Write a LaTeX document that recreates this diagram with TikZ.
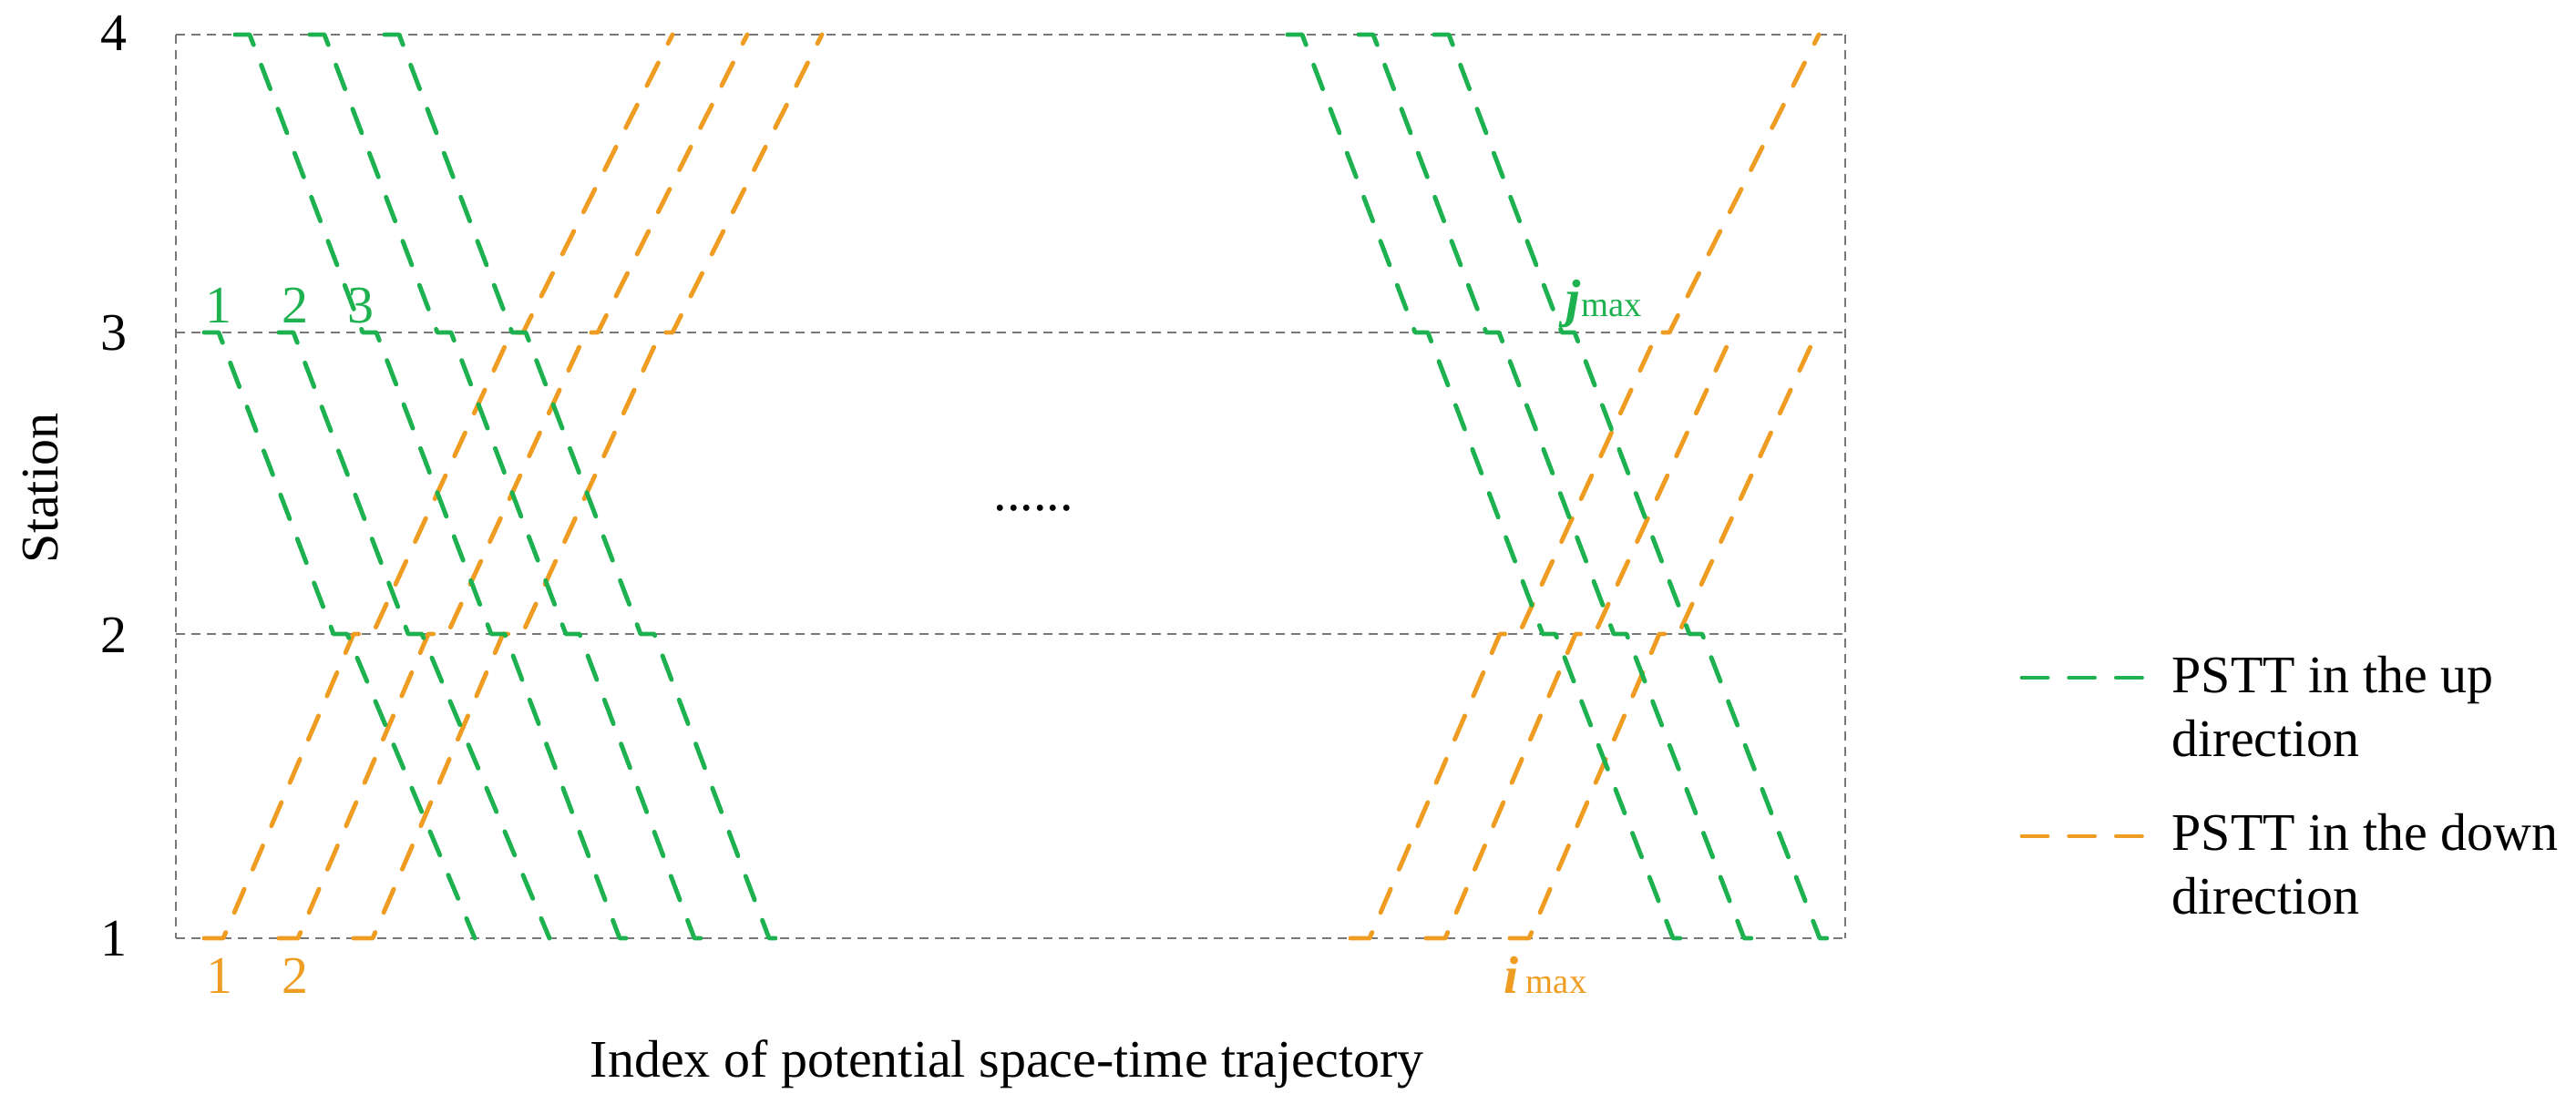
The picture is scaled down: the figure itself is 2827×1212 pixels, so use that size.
\documentclass[tikz,border=0pt]{standalone}
\usepackage{fontspec}
\setmainfont{Liberation Serif}
\definecolor{upg}{RGB}{30,177,80}
\definecolor{downo}{RGB}{239,156,34}
\definecolor{gridc}{RGB}{120,120,120}
\newcommand{\mysubfont}{\fontsize{11pt}{13pt}\selectfont}
\tikzset{
  traj/.style={line width=1.4pt, line cap=round, line join=round, dash pattern=on 2.8mm off 2.37mm},
  uptraj/.style={traj, draw=upg},
  downtraj/.style={traj, draw=downo},
  gridln/.style={draw=gridc, line width=0.4pt, dash pattern=on 1mm off 0.7mm},
  lbl/.style={inner sep=0pt, font=\fontsize{16.5pt}{19.8pt}\selectfont},
}
\begin{document}
\begin{tikzpicture}[x=0.1mm,y=-0.1mm]
\useasboundingbox (0,0) rectangle (2827,1212);
% grid / frame
\foreach \yy in {38,365,696,1030} \draw[gridln] (193,\yy) -- (2025,\yy);
\draw[gridln] (193,38) -- (193,1030);
\draw[gridln] (2025,38) -- (2025,1030);
% orange (down direction) trajectories, left group
\foreach \s in {224,306,388}
  \draw[downtraj] (\s,1030) -- ++(21,0) -- ++(143,-334) -- ++(21,0) -- ++(152,-331) -- ++(13,0) -- ++(164,-327);
% orange, right group
\draw[downtraj] (1482,1030) -- ++(21,0) -- ++(143,-334) -- ++(21,0) -- ++(152,-331) -- ++(13,0) -- ++(164,-327);
\foreach \s in {1565,1657}
  \draw[downtraj] (\s,1030) -- ++(21,0) -- ++(143,-334) -- ++(21,0) -- ++(152,-331);
% green (up direction) trajectories, left group
\foreach \s in {258,340,422}
  \draw[uptraj] (\s,38) -- ++(16,0) -- ++(124,327) -- ++(15,0) -- ++(126,331) -- ++(15,0) -- ++(126,334) -- ++(16,0);
\foreach \s in {224,306}
  \draw[uptraj] (\s,365) -- ++(16,0) -- ++(126,331) -- ++(15,0) -- ++(140,334);
% green, right group
\foreach \s in {1413,1491,1574}
  \draw[uptraj] (\s,38) -- ++(16,0) -- ++(124,327) -- ++(14,0) -- ++(126,331) -- ++(14,0) -- ++(129,334) -- ++(16,0);
% axis tick labels
\node[lbl] (t4) at (125,36) {4};
\node[lbl] (t3) at (125,366) {3};
\node[lbl] (t2) at (125,697) {2};
\node[lbl] (t1) at (125,1030) {1};
\node[lbl, rotate=90] (ylab) at (45,536) {Station};
\node[lbl, anchor=base] (xlab) at (1105,1182) {Index of potential space-time trajectory};
\node[lbl, anchor=base] (dots) at (1134,561) {......};
% trajectory index labels
\node[lbl, text=upg, anchor=base] (g1) at (240,355) {1};
\node[lbl, text=upg, anchor=base] (g2) at (324,355) {2};
\node[lbl, text=upg, anchor=base] (g3) at (396,355) {3};
\node[lbl, text=downo, anchor=base] (o1) at (241,1090) {1};
\node[lbl, text=downo, anchor=base] (o2) at (324,1090) {2};
\node[lbl, text=upg, anchor=base west] (jm) at (1718,348) {\textbf{\textit{j}}{\mysubfont max}};
\node[lbl, text=downo, anchor=base west] (im) at (1650,1090) {\textbf{\textit{i}}\hspace{0.8mm}{\mysubfont max}};
% legend
\coordinate (lg1a) at (2219,744);
\coordinate (lg1b) at (2352,744);
\coordinate (lg2a) at (2219,918);
\coordinate (lg2b) at (2352,918);
\draw[uptraj] (lg1a) -- (lg1b);
\draw[downtraj] (lg2a) -- (lg2b);
\node[lbl, anchor=base west] (l1a) at (2383,760) {PSTT in the up};
\node[lbl, anchor=base west] (l1b) at (2383,830) {direction};
\node[lbl, anchor=base west] (l2a) at (2383,933) {PSTT in the down};
\node[lbl, anchor=base west] (l2b) at (2383,1003) {direction};
\end{tikzpicture}
\end{document}
